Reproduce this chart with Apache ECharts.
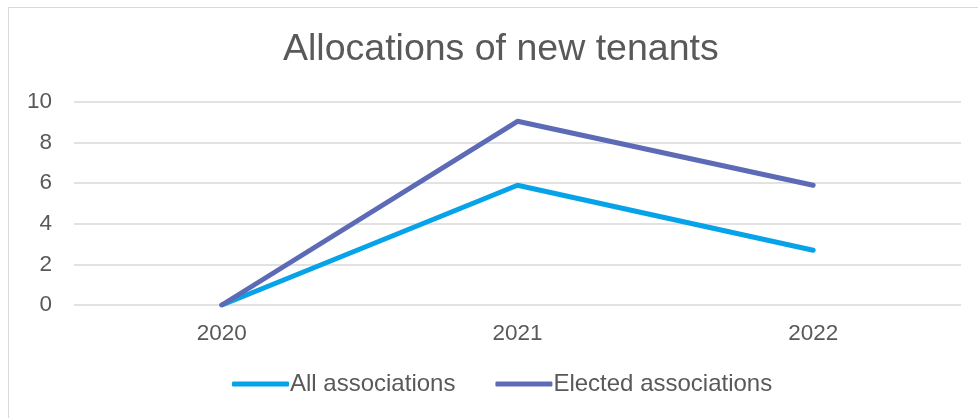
<!DOCTYPE html>
<html>
<head>
<meta charset="utf-8">
<script src="https://cdn.jsdelivr.net/npm/echarts@6/dist/echarts.min.js"></script>
<style>
  html, body { margin: 0; padding: 0; background: #fff; }
  #frame { position: absolute; left: 8px; top: 7px; width: 1000px; height: 430px; border: 1px solid #d9d9d9; }
  #myEcharts { position: absolute; left: 0; top: 0; width: 978px; height: 418px; }
</style>
</head>
<body>
<div id="frame"></div>
<div id="myEcharts"></div>
<script>
const years = ['2020', '2021', '2022']
const allAssociations = [0, 5.9, 2.7]
const electedAssociations = [0, 9.05, 5.9]
const yTicks = { min: 0, max: 10, interval: 2 }

const font = 'Liberation Sans, Arial, sans-serif'
const textColor = '#595959'

const myChart = echarts.init(document.getElementById('myEcharts'))
myChart.setOption({
  animation: false,
  title: {
    text: 'Allocations of new tenants',
    left: 278,
    top: 26,
    textStyle: { fontFamily: font, fontSize: 37.5, fontWeight: 'normal', color: textColor }
  },
  legend: {
    bottom: 17,
    left: 227,
    icon: 'roundRect',
    itemWidth: 57,
    itemHeight: 5,
    itemGap: 40,
    textStyle: { fontFamily: font, fontSize: 24, color: textColor, padding: [0, 0, 0, -4] },
    data: ['All associations', 'Elected associations']
  },
  grid: { left: 74, right: 17, top: 102, bottom: 113 },
  xAxis: {
    type: 'category',
    data: years,
    axisLine: { show: false },
    axisTick: { show: false },
    axisLabel: { fontFamily: font, fontSize: 22.5, color: textColor, margin: 17 }
  },
  yAxis: {
    type: 'value',
    min: yTicks.min,
    max: yTicks.max,
    interval: yTicks.interval,
    axisLabel: { fontFamily: font, fontSize: 22.5, color: textColor, margin: 22 },
    splitLine: { lineStyle: { color: '#d9d9d9', width: 1.5 } }
  },
  series: [
    {
      name: 'All associations',
      type: 'line',
      data: allAssociations,
      symbol: 'none',
      color: '#06A3E9',
      lineStyle: { width: 5, cap: 'round', join: 'round' }
    },
    {
      name: 'Elected associations',
      type: 'line',
      data: electedAssociations,
      symbol: 'none',
      color: '#5D6BB6',
      lineStyle: { width: 5, cap: 'round', join: 'round' }
    }
  ]
})
window.addEventListener('resize', () => {
  myChart.resize()
})
</script>
</body>
</html>
